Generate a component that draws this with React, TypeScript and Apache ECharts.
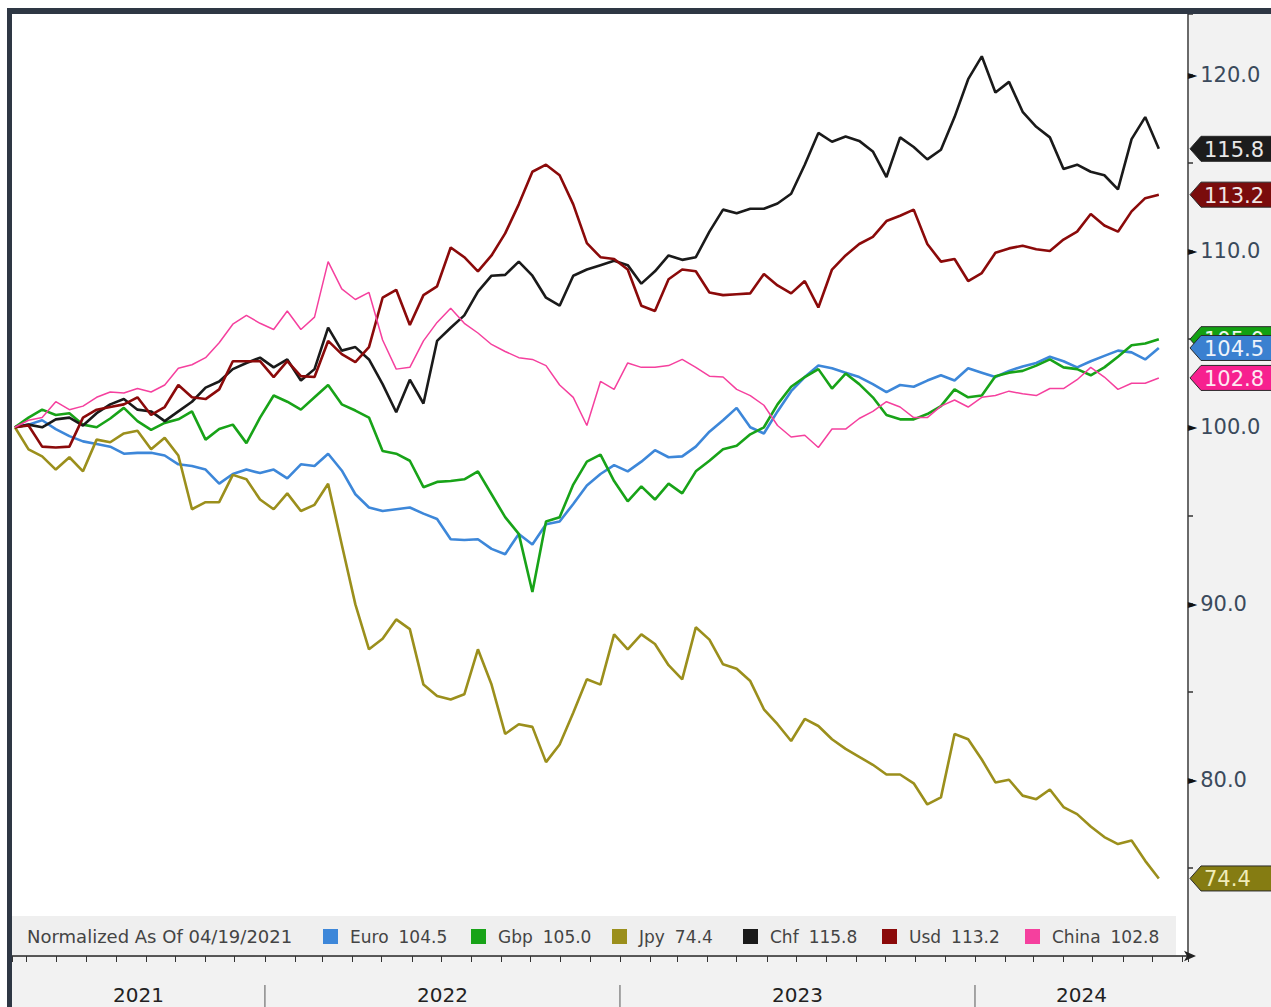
import React, { useEffect, useRef } from "react";
import * as echarts from "echarts";

const DAY = 86400000;
const START_TS = Date.UTC(2021, 3, 19);
const STEP_DAYS = 14;
const AXIS_MIN_TS = Date.UTC(2021, 3, 16);
const AXIS_MAX_TS = Date.UTC(2024, 7, 7);

const seriesNames = ["Euro", "Gbp", "Jpy", "Chf", "Usd", "China"];
const lineColors = ["#3d87d9", "#18a318", "#9b8f1c", "#1a1a1a", "#8b0a0a", "#f5409e"];
const tagColors = ["#3a80d0", "#12a012", "#857c12", "#1c1c1c", "#7a0c0c", "#f7208f"];
const tagTextColors = ["#eef3fa", "#eef8ee", "#f0ecb8", "#e8e8e8", "#f0e6e6", "#fde8f2"];

const euro = [100.0, 100.15, 100.4, 99.9, 99.5, 99.2, 99.05, 98.9, 98.5, 98.55,
  98.55, 98.4, 97.9, 97.8, 97.6, 96.8, 97.35, 97.6, 97.4, 97.6,
  97.1, 97.9, 97.8, 98.5, 97.55, 96.2, 95.45, 95.25, 95.35, 95.45,
  95.1, 94.8, 93.65, 93.6, 93.65, 93.1, 92.8, 93.95, 93.35, 94.5,
  94.65, 95.65, 96.7, 97.35, 97.85, 97.5, 98.05, 98.7, 98.3, 98.35,
  98.9, 99.75, 100.4, 101.1, 100.0, 99.65, 100.9, 102.05, 102.85, 103.5,
  103.35, 103.1, 102.85, 102.45, 102.0, 102.4, 102.3, 102.65, 102.95, 102.65,
  103.35, 103.1, 102.85, 103.2, 103.45, 103.65, 104.0, 103.75, 103.4, 103.75,
  104.05, 104.35, 104.25, 103.85, 104.5];

const gbp = [100.0, 100.55, 101.0, 100.7, 100.8, 100.15, 100.0, 100.5, 101.1, 100.35,
  99.85, 100.25, 100.45, 100.9, 99.3, 99.9, 100.15, 99.1, 100.55, 101.8,
  101.45, 101.0, 101.7, 102.4, 101.3, 100.95, 100.55, 98.65, 98.5, 98.1,
  96.6, 96.9, 96.95, 97.05, 97.5, 96.2, 94.9, 93.95, 90.65, 94.65,
  94.9, 96.75, 98.05, 98.45, 96.95, 95.8, 96.65, 95.9, 96.8, 96.25,
  97.5, 98.1, 98.75, 98.95, 99.6, 100.0, 101.3, 102.3, 102.85, 103.3,
  102.2, 103.05, 102.45, 101.7, 100.7, 100.45, 100.45, 100.75, 101.2, 102.15,
  101.7, 101.8, 102.9, 103.1, 103.2, 103.5, 103.85, 103.4, 103.3, 102.95,
  103.4, 104.0, 104.65, 104.75, 105.0];

const jpy = [100.0, 98.75, 98.35, 97.6, 98.3, 97.5, 99.3, 99.15, 99.65, 99.8,
  98.75, 99.4, 98.4, 95.35, 95.75, 95.75, 97.3, 97.05, 95.9, 95.35,
  96.25, 95.25, 95.6, 96.8, 93.35, 89.95, 87.4, 88.0, 89.1, 88.55,
  85.4, 84.75, 84.55, 84.85, 87.4, 85.4, 82.6, 83.15, 83.0, 81.0,
  82.0, 83.8, 85.7, 85.4, 88.25, 87.4, 88.25, 87.7, 86.5, 85.7,
  88.65, 87.95, 86.55, 86.3, 85.6, 84.0, 83.15, 82.2, 83.45, 83.05,
  82.3, 81.75, 81.3, 80.85, 80.3, 80.3, 79.8, 78.6, 79.0, 82.6,
  82.3, 81.15, 79.85, 80.0, 79.1, 78.9, 79.45, 78.45, 78.05, 77.35,
  76.75, 76.35, 76.55, 75.4, 74.4];

const chf = [100.0, 100.15, 100.0, 100.45, 100.55, 100.1, 100.8, 101.3, 101.6, 101.0,
  100.9, 100.35, 100.9, 101.45, 102.25, 102.6, 103.3, 103.65, 103.95, 103.4,
  103.85, 102.65, 103.3, 105.65, 104.35, 104.55, 103.85, 102.45, 100.85, 102.7,
  101.35, 104.9, 105.65, 106.35, 107.7, 108.6, 108.65, 109.4, 108.6, 107.35,
  106.9, 108.6, 108.95, 109.2, 109.45, 109.2, 108.15, 108.85, 109.75, 109.5,
  109.65, 111.1, 112.35, 112.15, 112.4, 112.4, 112.7, 113.25, 114.9, 116.7,
  116.2, 116.5, 116.25, 115.65, 114.2, 116.45, 115.9, 115.2, 115.75, 117.6,
  119.75, 121.05, 119.0, 119.6, 117.9, 117.05, 116.45, 114.65, 114.9, 114.5,
  114.3, 113.5, 116.35, 117.6, 115.8];

const usd = [100.0, 100.1, 98.9, 98.85, 98.9, 100.55, 101.0, 101.15, 101.3, 101.7,
  100.7, 101.15, 102.4, 101.7, 101.6, 102.15, 103.75, 103.75, 103.75, 102.85,
  103.75, 102.9, 102.85, 104.9, 104.15, 103.7, 104.55, 107.35, 107.8, 105.8,
  107.5, 108.0, 110.2, 109.65, 108.85, 109.75, 111.0, 112.65, 114.5, 114.9,
  114.3, 112.65, 110.45, 109.65, 109.55, 108.95, 106.9, 106.6, 108.4, 108.95,
  108.85, 107.65, 107.5, 107.55, 107.6, 108.7, 108.05, 107.6, 108.3, 106.8,
  108.95, 109.75, 110.4, 110.8, 111.7, 112.0, 112.35, 110.4, 109.4, 109.55,
  108.3, 108.75, 109.9, 110.15, 110.3, 110.1, 110.0, 110.65, 111.1, 112.1,
  111.45, 111.1, 112.25, 113.0, 113.2];

const china = [100.0, 100.4, 100.55, 101.45, 101.0, 101.2, 101.7, 102.0, 101.95, 102.2,
  102.0, 102.4, 103.35, 103.55, 103.95, 104.8, 105.85, 106.35, 105.9, 105.55,
  106.6, 105.55, 106.25, 109.4, 107.85, 107.25, 107.65, 104.95, 103.3, 103.4,
  104.9, 105.95, 106.75, 105.9, 105.35, 104.7, 104.3, 103.95, 103.85, 103.5,
  102.4, 101.7, 100.1, 102.6, 102.15, 103.65, 103.4, 103.4, 103.5, 103.85,
  103.4, 102.9, 102.85, 102.15, 101.8, 101.25, 100.1, 99.45, 99.55, 98.85,
  99.9, 99.9, 100.5, 100.9, 101.45, 101.15, 100.55, 100.55, 101.2, 101.55,
  101.15, 101.7, 101.8, 102.05, 101.9, 101.8, 102.2, 102.2, 102.7, 103.4,
  102.85, 102.15, 102.5, 102.5, 102.8];

const allValues = [euro, gbp, jpy, chf, usd, china];
const yearLabels = ["2021", "2022", "2023", "2024"];
const yearBounds = [AXIS_MIN_TS, Date.UTC(2022, 0, 1), Date.UTC(2023, 0, 1), Date.UTC(2024, 0, 1), AXIS_MAX_TS];
const legendLefts = [323, 471, 612, 743, 882, 1025];
const tagOrder = [3, 4, 1, 0, 5, 2];
const noteText = "Normalized As Of 04/19/2021";

const FONT = "'DejaVu Sans', Verdana, sans-serif";

export default function App() {
  const ref = useRef<HTMLDivElement>(null);
  useEffect(() => {
    document.body.style.margin = "0";
    if (!ref.current) return;
    const chart = echarts.init(ref.current, undefined, { renderer: "svg" });
    const last = (i: number) => allValues[i][allValues[i].length - 1];
    const toData = (vals: number[]) => vals.map((v, k) => [START_TS + k * STEP_DAYS * DAY, v]);

    const lineSeries = seriesNames.map((name, i) => ({
      name,
      type: "line",
      data: toData(allValues[i]),
      showSymbol: false,
      symbol: "none",
      lineStyle: { color: lineColors[i], width: i === 5 ? 1.5 : 2.6 },
      itemStyle: { color: lineColors[i] },
      z: 3,
    }));

    const yearSeries = {
      type: "custom",
      silent: true,
      clip: false,
      encode: { x: [0, 1], y: 2 },
      data: yearLabels.map((_, k) => [yearBounds[k], yearBounds[k + 1], 70]),
      renderItem: (params: any, api: any) => {
        const p0 = api.coord([api.value(0), 70]);
        const p1 = api.coord([api.value(1), 70]);
        const children: any[] = [
          {
            type: "text",
            style: {
              x: (p0[0] + p1[0]) / 2,
              y: p0[1] + 39,
              text: yearLabels[params.dataIndex],
              fill: "#222",
              fontSize: 20,
              fontFamily: FONT,
              align: "center",
              verticalAlign: "middle",
            },
          },
        ];
        if (params.dataIndex > 0) {
          children.push({
            type: "line",
            shape: { x1: p0[0], y1: p0[1] + 29, x2: p0[0], y2: p0[1] + 52 },
            style: { stroke: "#8a8a8a", lineWidth: 1.5 },
          });
        }
        return { type: "group", children };
      },
      z: 10,
    };

    const tagSeries = {
      type: "custom",
      silent: true,
      clip: false,
      encode: { x: 0, y: 1 },
      data: tagOrder.map((i) => [AXIS_MAX_TS, last(i), i]),
      renderItem: (params: any, api: any) => {
        const i = api.value(2);
        const p = api.coord([api.value(0), api.value(1)]);
        const x = p[0] + 2;
        const y = p[1];
        const h = 12.5;
        return {
          type: "group",
          children: [
            {
              type: "polygon",
              shape: { points: [[x, y], [x + 11, y - h], [1300, y - h], [1300, y + h], [x + 11, y + h]] },
              style: { fill: tagColors[i], stroke: "#2a2a2a", lineWidth: 1 },
            },
            {
              type: "text",
              style: {
                x: x + 14,
                y: y + 1,
                text: last(i).toFixed(1),
                fill: tagTextColors[i],
                fontSize: 21,
                fontFamily: FONT,
                verticalAlign: "middle",
              },
            },
          ],
        };
      },
      z: 12,
    };

    const legends = seriesNames.map((name, i) => ({
      data: [name],
      left: legendLefts[i],
      top: 928,
      padding: 0,
      itemWidth: 15,
      itemHeight: 15,
      icon: "rect",
      selectedMode: false,
      formatter: (n: string) => `{n|${n}}{v|${last(i).toFixed(1)}}`,
      textStyle: {
        color: "#444",
        fontSize: 17,
        fontFamily: FONT,
        rich: {
          n: { fontSize: 17, fontFamily: FONT, color: "#444", padding: [0, 0, 0, 7] },
          v: { fontSize: 17, fontFamily: FONT, color: "#444", padding: [0, 0, 0, 10] },
        },
      },
      z: 8,
    }));

    chart.setOption({
      animation: false,
      backgroundColor: "#f2f2f2",
      textStyle: { fontFamily: FONT },
      grid: {
        left: 12,
        top: 14,
        right: 1271 - 1188,
        bottom: 1007 - 956,
        show: true,
        backgroundColor: "#ffffff",
        borderWidth: 0,
      },
      legend: legends,
      xAxis: {
        type: "time",
        min: AXIS_MIN_TS,
        max: AXIS_MAX_TS,
        minInterval: 28 * DAY,
        maxInterval: 31 * DAY,
        axisLine: {
          show: true,
          lineStyle: { color: "#222", width: 1.5 },
          symbol: ["none", "arrow"],
          symbolSize: [8, 12],
          symbolOffset: [0, 8],
        },
        axisTick: { show: true, length: 6, lineStyle: { color: "#333", width: 1 } },
        axisLabel: { show: false },
        splitLine: { show: false },
      },
      yAxis: {
        type: "value",
        position: "right",
        min: 70,
        max: 123.45,
        interval: 5,
        splitLine: { show: false },
        axisLine: { show: true, lineStyle: { color: "#6a6a6a", width: 2 } },
        axisTick: { show: true, length: 5, lineStyle: { color: "#333", width: 1.5 } },
        axisLabel: {
          margin: 0,
          formatter: (v: number) =>
            Math.abs(v % 10) < 1e-6 && v >= 80 && v <= 120 ? `{t|►}{v|${v.toFixed(1)}}` : "",
          rich: {
            t: { fontSize: 12, color: "#111", fontFamily: FONT, verticalAlign: "middle" },
            v: { fontSize: 21, color: "#3b4a5c", fontFamily: FONT, verticalAlign: "middle", padding: [0, 0, 0, 3] },
          },
        },
      },
      graphic: [
        { type: "rect", shape: { x: 0, y: 0, width: 1271, height: 8 }, style: { fill: "#ffffff" }, z: 20 },
        { type: "rect", shape: { x: 0, y: 0, width: 7, height: 1007 }, style: { fill: "#ffffff" }, z: 20 },
        { type: "rect", shape: { x: 7, y: 8, width: 1264, height: 6 }, style: { fill: "#2e3744" }, z: 21 },
        { type: "rect", shape: { x: 7, y: 8, width: 5, height: 999 }, style: { fill: "#2e3744" }, z: 21 },
        { type: "rect", shape: { x: 12, y: 916, width: 1164, height: 39 }, style: { fill: "#efefef" }, z: 1 },
        {
          type: "text",
          style: { x: 27, y: 936, text: noteText, fill: "#444", fontSize: 18, fontFamily: FONT, verticalAlign: "middle" },
          z: 8,
        },
      ],
      series: [...lineSeries, yearSeries, tagSeries],
    });
    return () => chart.dispose();
  }, []);
  return <div ref={ref} style={{ width: 1271, height: 1007 }} />;
}
